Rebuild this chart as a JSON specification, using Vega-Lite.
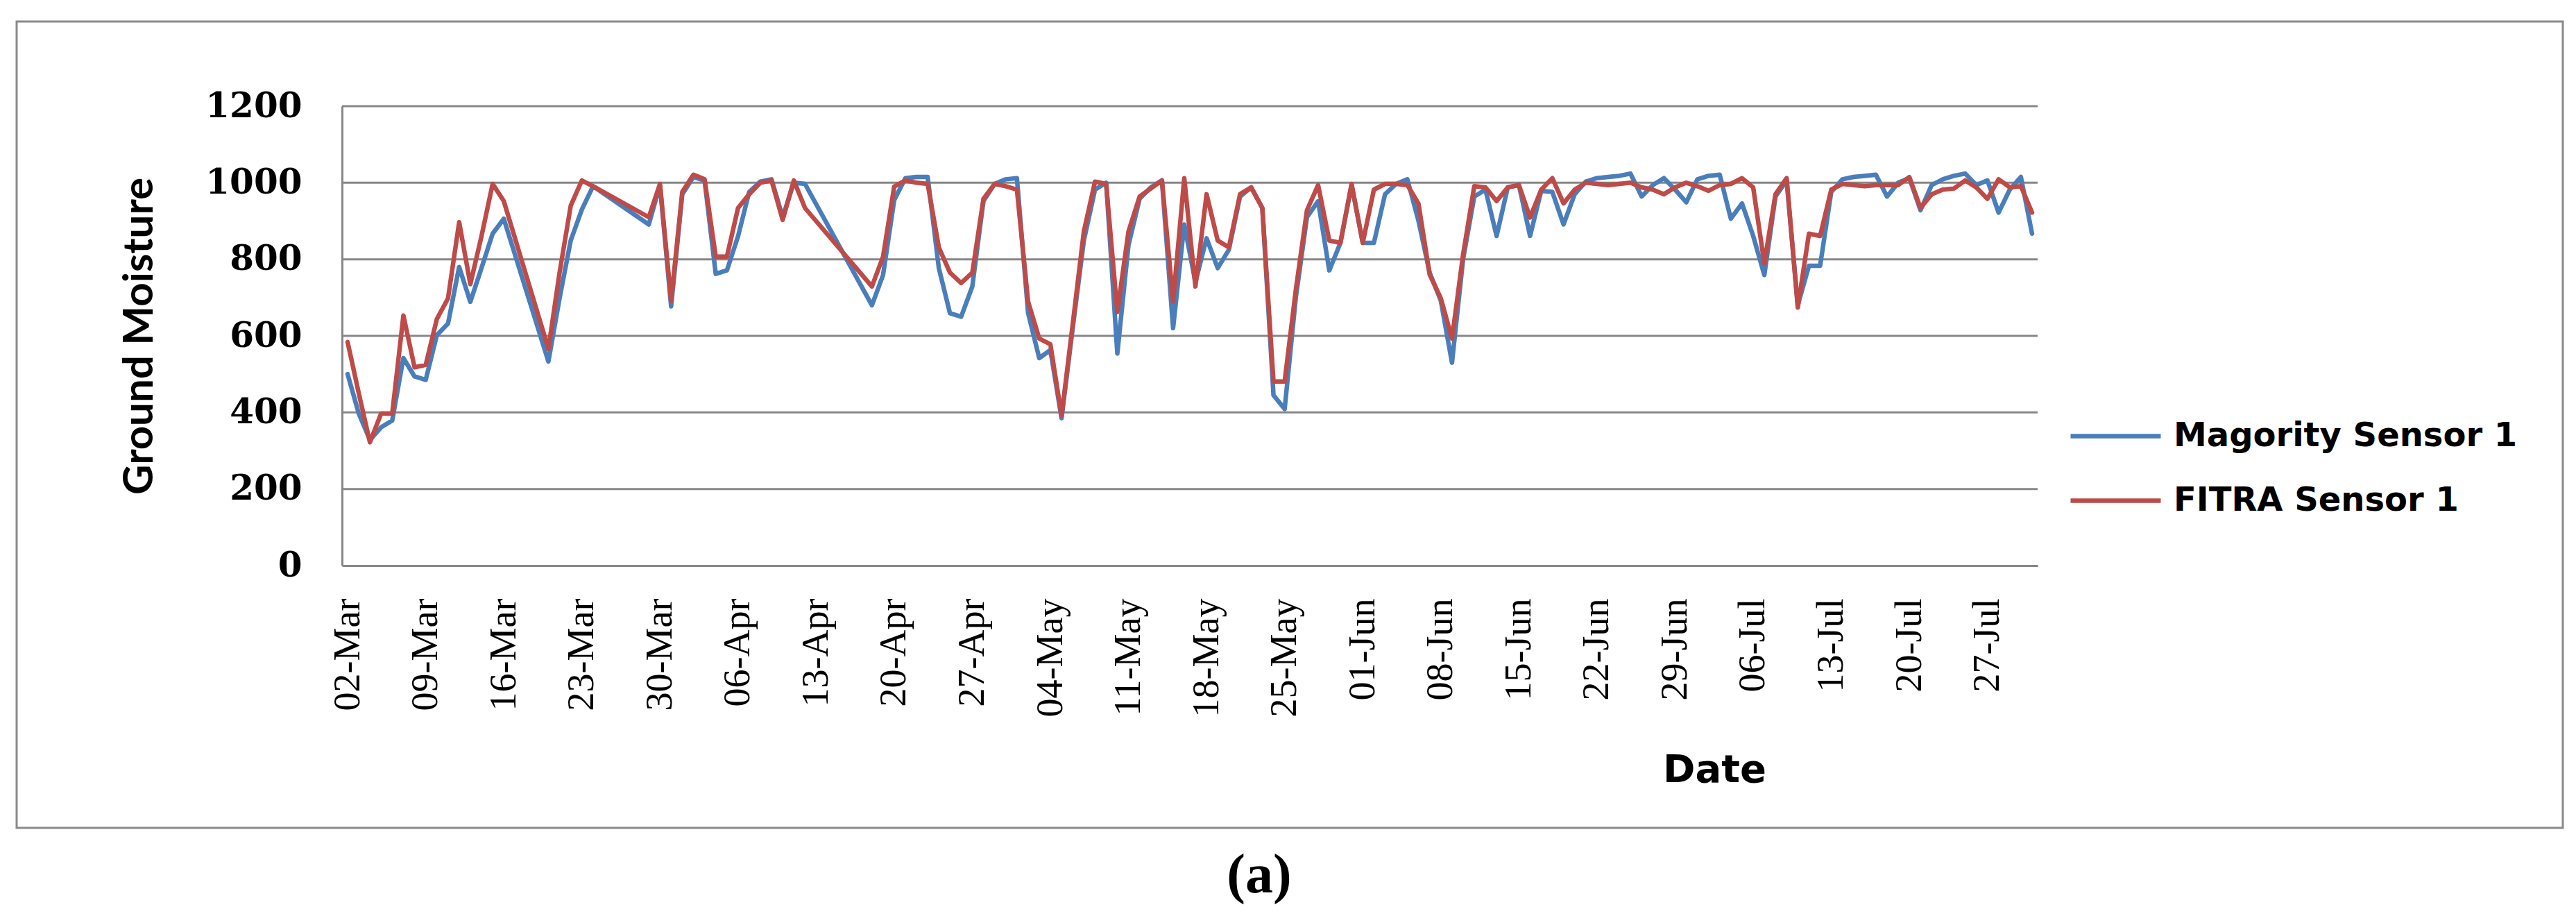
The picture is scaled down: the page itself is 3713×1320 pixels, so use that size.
{
  "$schema": "https://vega.github.io/schema/vega-lite/v6.json",
  "width": 3670,
  "height": 1162,
  "autosize": {"type": "none"},
  "padding": {"left": 24, "top": 31, "right": 19, "bottom": 127},
  "background": "white",
  "title": {"text": "(a)", "orient": "bottom", "frame": "group", "anchor": "middle", "dx": -44, "offset": 30, "baseline": "top", "font": "Liberation Serif", "fontSize": 80, "fontWeight": "bold", "color": "black"},
  "config": {"view": {"stroke": "#8a8a8a", "strokeWidth": 3, "fill": "white"}},
  "data": {"values": [
    {"date":"2019-03-02","m":500,"f":584},
    {"date":"2019-03-03","m":397,"f":450},
    {"date":"2019-03-04","m":328,"f":322},
    {"date":"2019-03-05","m":361,"f":397},
    {"date":"2019-03-06","m":379,"f":397},
    {"date":"2019-03-07","m":542,"f":653},
    {"date":"2019-03-08","m":494,"f":518},
    {"date":"2019-03-09","m":485,"f":524},
    {"date":"2019-03-10","m":602,"f":644},
    {"date":"2019-03-11","m":632,"f":698},
    {"date":"2019-03-12","m":780,"f":897},
    {"date":"2019-03-13","m":689,"f":735},
    {"date":"2019-03-14","m":777,"f":860},
    {"date":"2019-03-15","m":867,"f":997},
    {"date":"2019-03-16","m":906,"f":952},
    {"date":"2019-03-20","m":533,"f":566},
    {"date":"2019-03-21","m":698,"f":765},
    {"date":"2019-03-22","m":849,"f":940},
    {"date":"2019-03-23","m":930,"f":1006},
    {"date":"2019-03-24","m":991,"f":991},
    {"date":"2019-03-29","m":891,"f":910},
    {"date":"2019-03-30","m":994,"f":997},
    {"date":"2019-03-31","m":677,"f":692},
    {"date":"2019-04-01","m":970,"f":976},
    {"date":"2019-04-02","m":1015,"f":1021},
    {"date":"2019-04-03","m":1006,"f":1009},
    {"date":"2019-04-04","m":762,"f":807},
    {"date":"2019-04-05","m":771,"f":807},
    {"date":"2019-04-06","m":860,"f":934},
    {"date":"2019-04-07","m":976,"f":970},
    {"date":"2019-04-08","m":1003,"f":1000},
    {"date":"2019-04-09","m":1009,"f":1006},
    {"date":"2019-04-10","m":910,"f":903},
    {"date":"2019-04-11","m":1000,"f":1006},
    {"date":"2019-04-12","m":997,"f":934},
    {"date":"2019-04-18","m":680,"f":729},
    {"date":"2019-04-19","m":759,"f":807},
    {"date":"2019-04-20","m":955,"f":990},
    {"date":"2019-04-21","m":1012,"f":1006},
    {"date":"2019-04-22","m":1015,"f":1000},
    {"date":"2019-04-23","m":1015,"f":997},
    {"date":"2019-04-24","m":777,"f":831},
    {"date":"2019-04-25","m":659,"f":765},
    {"date":"2019-04-26","m":650,"f":738},
    {"date":"2019-04-27","m":729,"f":765},
    {"date":"2019-04-28","m":952,"f":958},
    {"date":"2019-04-29","m":997,"f":997},
    {"date":"2019-04-30","m":1009,"f":991},
    {"date":"2019-05-01","m":1012,"f":982},
    {"date":"2019-05-02","m":660,"f":690},
    {"date":"2019-05-03","m":542,"f":593},
    {"date":"2019-05-04","m":563,"f":578},
    {"date":"2019-05-05","m":385,"f":391},
    {"date":"2019-05-06","m":620,"f":630},
    {"date":"2019-05-07","m":849,"f":873},
    {"date":"2019-05-08","m":982,"f":1003},
    {"date":"2019-05-09","m":1000,"f":997},
    {"date":"2019-05-10","m":554,"f":662},
    {"date":"2019-05-11","m":837,"f":873},
    {"date":"2019-05-12","m":958,"f":964},
    {"date":"2019-05-13","m":988,"f":985},
    {"date":"2019-05-14","m":1006,"f":1006},
    {"date":"2019-05-15","m":620,"f":690},
    {"date":"2019-05-16","m":891,"f":1012},
    {"date":"2019-05-17","m":740,"f":729},
    {"date":"2019-05-18","m":855,"f":970},
    {"date":"2019-05-19","m":777,"f":849},
    {"date":"2019-05-20","m":825,"f":831},
    {"date":"2019-05-21","m":964,"f":970},
    {"date":"2019-05-22","m":988,"f":988},
    {"date":"2019-05-23","m":934,"f":934},
    {"date":"2019-05-24","m":445,"f":481},
    {"date":"2019-05-25","m":409,"f":481},
    {"date":"2019-05-26","m":700,"f":720},
    {"date":"2019-05-27","m":910,"f":928},
    {"date":"2019-05-28","m":952,"f":994},
    {"date":"2019-05-29","m":771,"f":849},
    {"date":"2019-05-30","m":843,"f":843},
    {"date":"2019-05-31","m":994,"f":997},
    {"date":"2019-06-01","m":843,"f":843},
    {"date":"2019-06-02","m":843,"f":982},
    {"date":"2019-06-03","m":970,"f":997},
    {"date":"2019-06-04","m":997,"f":997},
    {"date":"2019-06-05","m":1009,"f":994},
    {"date":"2019-06-06","m":900,"f":945},
    {"date":"2019-06-07","m":765,"f":760},
    {"date":"2019-06-08","m":692,"f":698},
    {"date":"2019-06-09","m":530,"f":593},
    {"date":"2019-06-10","m":801,"f":813},
    {"date":"2019-06-11","m":964,"f":991},
    {"date":"2019-06-12","m":982,"f":988},
    {"date":"2019-06-13","m":861,"f":952},
    {"date":"2019-06-14","m":988,"f":988},
    {"date":"2019-06-15","m":994,"f":994},
    {"date":"2019-06-16","m":861,"f":909},
    {"date":"2019-06-17","m":979,"f":982},
    {"date":"2019-06-18","m":976,"f":1012},
    {"date":"2019-06-19","m":891,"f":946},
    {"date":"2019-06-20","m":970,"f":982},
    {"date":"2019-06-21","m":1003,"f":1000},
    {"date":"2019-06-22","m":1012,"f":997},
    {"date":"2019-06-23","m":1015,"f":994},
    {"date":"2019-06-24","m":1018,"f":997},
    {"date":"2019-06-25","m":1024,"f":1000},
    {"date":"2019-06-26","m":964,"f":988},
    {"date":"2019-06-27","m":994,"f":982},
    {"date":"2019-06-28","m":1012,"f":970},
    {"date":"2019-06-29","m":982,"f":988},
    {"date":"2019-06-30","m":949,"f":1000},
    {"date":"2019-07-01","m":1009,"f":991},
    {"date":"2019-07-02","m":1018,"f":979},
    {"date":"2019-07-03","m":1021,"f":994},
    {"date":"2019-07-04","m":906,"f":997},
    {"date":"2019-07-05","m":946,"f":1012},
    {"date":"2019-07-06","m":861,"f":988},
    {"date":"2019-07-07","m":759,"f":789},
    {"date":"2019-07-08","m":964,"f":970},
    {"date":"2019-07-09","m":1006,"f":1012},
    {"date":"2019-07-10","m":680,"f":674},
    {"date":"2019-07-11","m":783,"f":867},
    {"date":"2019-07-12","m":783,"f":861},
    {"date":"2019-07-13","m":976,"f":982},
    {"date":"2019-07-14","m":1009,"f":997},
    {"date":"2019-07-15","m":1015,"f":994},
    {"date":"2019-07-16","m":1018,"f":991},
    {"date":"2019-07-17","m":1021,"f":994},
    {"date":"2019-07-18","m":964,"f":994},
    {"date":"2019-07-19","m":1000,"f":994},
    {"date":"2019-07-20","m":1012,"f":1015},
    {"date":"2019-07-21","m":928,"f":934},
    {"date":"2019-07-22","m":994,"f":970},
    {"date":"2019-07-23","m":1009,"f":982},
    {"date":"2019-07-24","m":1018,"f":985},
    {"date":"2019-07-25","m":1024,"f":1006},
    {"date":"2019-07-26","m":994,"f":988},
    {"date":"2019-07-27","m":1006,"f":958},
    {"date":"2019-07-28","m":922,"f":1009},
    {"date":"2019-07-29","m":982,"f":988},
    {"date":"2019-07-30","m":1015,"f":991},
    {"date":"2019-07-31","m":867,"f":922}
  ]},
  "layer": [
    {
      "data": {"values": [{"g":200},{"g":400},{"g":600},{"g":800},{"g":1000},{"g":1200}]},
      "mark": {"type": "rule", "color": "#878787", "strokeWidth": 3},
      "encoding": {
        "y": {"field": "g", "type": "quantitative",
              "scale": {"domain": [0, 1200], "range": [784, 122], "nice": false, "zero": true},
              "axis": {"values": [0,200,400,600,800,1000,1200], "format": "d", "orient": "left", "offset": -469, "grid": false, "ticks": false, "tickSize": 0, "domainColor": "#878787", "domainWidth": 3, "labelFont": "DejaVu Serif", "labelFontWeight": "bold", "labelFontSize": 50, "labelColor": "black", "labelPadding": 58, "labelFlush": false, "labelOverlap": false, "title": "Ground Moisture", "titleFont": "Lato", "titleFontWeight": "bold", "titleFontSize": 60, "titleColor": "black", "titleX": -292, "titleY": 453, "titleAngle": 270, "titleAlign": "center", "titleBaseline": "middle"}},
        "x": {"datum": {"year": 2019, "month": 3, "date": 1, "hours": 12, "utc": true}, "type": "temporal",
              "scale": {"type": "utc", "domain": [{"year": 2019, "month": 3, "date": 1, "hours": 12, "utc": true}, {"year": 2019, "month": 7, "date": 31, "hours": 12, "utc": true}], "range": [469, 2913], "nice": false},
              "axis": {"orient": "bottom", "offset": -378, "grid": false, "ticks": false, "tickSize": 0, "domainColor": "#878787", "domainWidth": 3,
                       "values": [
                         {"year":2019,"month":3,"date":2,"utc":true},{"year":2019,"month":3,"date":9,"utc":true},{"year":2019,"month":3,"date":16,"utc":true},{"year":2019,"month":3,"date":23,"utc":true},{"year":2019,"month":3,"date":30,"utc":true},
                         {"year":2019,"month":4,"date":6,"utc":true},{"year":2019,"month":4,"date":13,"utc":true},{"year":2019,"month":4,"date":20,"utc":true},{"year":2019,"month":4,"date":27,"utc":true},
                         {"year":2019,"month":5,"date":4,"utc":true},{"year":2019,"month":5,"date":11,"utc":true},{"year":2019,"month":5,"date":18,"utc":true},{"year":2019,"month":5,"date":25,"utc":true},
                         {"year":2019,"month":6,"date":1,"utc":true},{"year":2019,"month":6,"date":8,"utc":true},{"year":2019,"month":6,"date":15,"utc":true},{"year":2019,"month":6,"date":22,"utc":true},{"year":2019,"month":6,"date":29,"utc":true},
                         {"year":2019,"month":7,"date":6,"utc":true},{"year":2019,"month":7,"date":13,"utc":true},{"year":2019,"month":7,"date":20,"utc":true},{"year":2019,"month":7,"date":27,"utc":true}],
                       "format": "%d-%b", "labelAngle": 270, "labelFont": "Liberation Serif", "labelFontSize": 54, "labelColor": "black", "labelPadding": 47, "labelFlush": false, "labelOverlap": false, "labelBound": false,
                       "title": "Date", "titleFont": "DejaVu Sans", "titleFontWeight": "bold", "titleFontSize": 56, "titleColor": "black", "titleX": 2447, "titleY": 294, "titleAlign": "center", "titleBaseline": "middle", "titleAngle": 0}},
        "x2": {"datum": {"year": 2019, "month": 7, "date": 31, "hours": 12, "utc": true}}
      }
    },
    {
      "mark": {"type": "line", "strokeWidth": 6.5, "strokeJoin": "round", "strokeCap": "round"},
      "encoding": {
        "x": {"field": "date", "type": "temporal"},
        "y": {"field": "m", "type": "quantitative"},
        "color": {"datum": "Magority Sensor 1", "type": "nominal",
                  "scale": {"domain": ["Magority Sensor 1", "FITRA Sensor 1"], "range": ["#4A7EBB", "#BE4B48"]},
                  "legend": {"orient": "none", "legendX": 2957, "legendY": 529, "title": null, "direction": "vertical", "padding": 0, "symbolType": "stroke", "symbolSize": 16900, "symbolStrokeWidth": 6.5, "labelFont": "DejaVu Sans", "labelFontWeight": "bold", "labelFontSize": 48, "labelColor": "black", "labelOffset": 15, "rowPadding": -34, "labelLimit": 0}}
      }
    },
    {
      "mark": {"type": "line", "strokeWidth": 6.5, "strokeJoin": "round", "strokeCap": "round"},
      "encoding": {
        "x": {"field": "date", "type": "temporal"},
        "y": {"field": "f", "type": "quantitative"},
        "color": {"datum": "FITRA Sensor 1", "type": "nominal"}
      }
    }
  ]
}
